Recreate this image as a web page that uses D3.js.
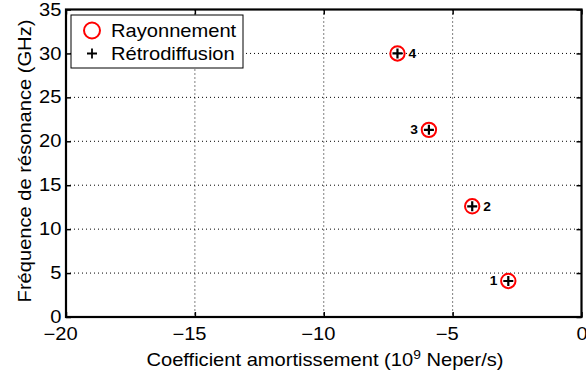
<!DOCTYPE html>
<html><head><meta charset="utf-8">
<script src="https://cdn.jsdelivr.net/npm/d3@7"></script>
<style>body{margin:0;background:#fff}svg{display:block}text{font-family:"Liberation Sans",Arial,sans-serif}</style>
</head><body>
<svg id="c" width="586" height="377"></svg>
<script>
const xVals = [-2.84, -4.24, -5.92, -7.14];
const yVals = [4.1, 12.6, 21.3, 30.0];
const pointLabels = ["1", "2", "3", "4"];
const labelSide = ["left", "right", "left", "right"];
const xTicks = [-20, -15, -10, -5, 0];
const yTicks = [0, 5, 10, 15, 20, 25, 30, 35];
const legendNames = ["Rayonnement", "Rétrodiffusion"];

const SX = 1.15;
const svg = d3.select("#c");
const L = 66, R = 581.5, T = 9.5, B = 317;
const x = d3.scaleLinear().domain([-20, 0]).range([L, R]);
const y = d3.scaleLinear().domain([0, 35]).range([B, T]);

// grid
const g = svg.append("g");
g.selectAll("line.gx").data(xTicks.slice(1, -1)).enter().append("line")
  .attr("x1", d => x(d)).attr("x2", d => x(d)).attr("y1", T).attr("y2", B)
  .attr("stroke", "#000").attr("stroke-width", 1).attr("stroke-dasharray", "1,3");
g.selectAll("line.gy").data(yTicks.slice(1, -1)).enter().append("line")
  .attr("y1", d => y(d)).attr("y2", d => y(d)).attr("x1", L).attr("x2", R)
  .attr("stroke", "#000").attr("stroke-width", 1).attr("stroke-dasharray", "1,3");

// axes
const fs = "17.5px";
const ax = svg.append("g").attr("transform", `translate(0,${B})`)
  .call(d3.axisBottom(x).tickValues(xTicks).tickSizeInner(-5).tickSizeOuter(0).tickPadding(0)
    .tickFormat(d => Math.abs(d)));
const ay = svg.append("g").attr("transform", `translate(${L},0)`)
  .call(d3.axisLeft(y).tickValues(yTicks).tickSizeInner(-5).tickSizeOuter(0).tickPadding(0));
const axT = svg.append("g").attr("transform", `translate(0,${T})`)
  .call(d3.axisTop(x).tickValues(xTicks).tickSizeInner(-5).tickSizeOuter(0).tickFormat(""));
const ayR = svg.append("g").attr("transform", `translate(${R},0)`)
  .call(d3.axisRight(y).tickValues(yTicks).tickSizeInner(-5).tickSizeOuter(0).tickFormat(""));
[ax, ay, axT, ayR].forEach(a => {
  a.select(".domain").remove();
  a.selectAll("line").attr("stroke", "#000").attr("stroke-width", 1.5);
  a.selectAll("text").attr("fill", "#000").style("font-size", fs).attr("font-family", null);
});
ax.selectAll("text").attr("y", 23).attr("dy", null).attr("transform", `scale(${SX},1)`);
// minus sign sits left of the centred digits
ax.selectAll(".tick").each(function(d) {
  if (d >= 0) return;
  const t = d3.select(this).select("text");
  const w = t.node().getComputedTextLength();
  d3.select(this).append("text").attr("x", -w / 2).attr("y", 23)
    .attr("text-anchor", "end").attr("fill", "#000").attr("transform", `scale(${SX},1)`)
    .style("font-size", fs).text("\u2212");
});
ay.selectAll("text").attr("x", -4).attr("transform", `scale(${SX},1)`);

svg.append("rect").attr("x", L).attr("y", T).attr("width", R - L).attr("height", B - T)
  .attr("fill", "none").attr("stroke", "#000").attr("stroke-width", 2.2);

// points
const pts = svg.append("g");
pts.selectAll("circle").data(xVals).enter().append("circle")
  .attr("cx", d => x(d)).attr("cy", (d, i) => y(yVals[i])).attr("r", 7.2)
  .attr("fill", "none").attr("stroke", "#f00").attr("stroke-width", 2);
pts.selectAll("path.p").data(xVals).enter().append("path")
  .attr("d", "M-5,0H5M0,-5V5")
  .attr("transform", (d, i) => `translate(${x(d)},${y(yVals[i])})`)
  .attr("stroke", "#000").attr("stroke-width", 2.2).attr("fill", "none");
pts.selectAll("text").data(pointLabels).enter().append("text")
  .attr("transform", (d, i) => `translate(${x(xVals[i]) + (labelSide[i] === "left" ? -11 : 11)},${y(yVals[i]) + 4.5}) scale(${SX},1)`)
  .attr("text-anchor", (d, i) => labelSide[i] === "left" ? "end" : "start")
  .style("font-size", "12px").style("font-weight", "bold").text(d => d);

// legend
const lg = svg.append("g");
lg.append("rect").attr("x", 71).attr("y", 15).attr("width", 172).attr("height", 53)
  .attr("fill", "#fff").attr("stroke", "#000").attr("stroke-width", 1);
lg.append("circle").attr("cx", 92).attr("cy", 30.5).attr("r", 8)
  .attr("fill", "none").attr("stroke", "#f00").attr("stroke-width", 2);
lg.append("path").attr("d", "M87,53.5H97M92,48.5V58.5").attr("stroke", "#000").attr("stroke-width", 1.8);
lg.selectAll("text").data(legendNames).enter().append("text")
  .attr("transform", (d, i) => `translate(111,${37 + i * 23}) scale(${SX},1)`)
  .style("font-size", "17.5px").text(d => d);

// titles
const xt = svg.append("text").attr("transform", `translate(325,366) scale(${SX},1)`)
  .attr("text-anchor", "middle").style("font-size", fs);
xt.append("tspan").text("Coefficient amortissement (10");
xt.append("tspan").attr("dy", -7).style("font-size", "12px").text("9");
xt.append("tspan").attr("dy", 7).text(" Neper/s)");
svg.append("text").attr("transform", `translate(30.5,161) rotate(-90) scale(${SX},1)`).attr("text-anchor", "middle")
  .style("font-size", fs).text("Fréquence de résonance (GHz)");
</script>
</body></html>
